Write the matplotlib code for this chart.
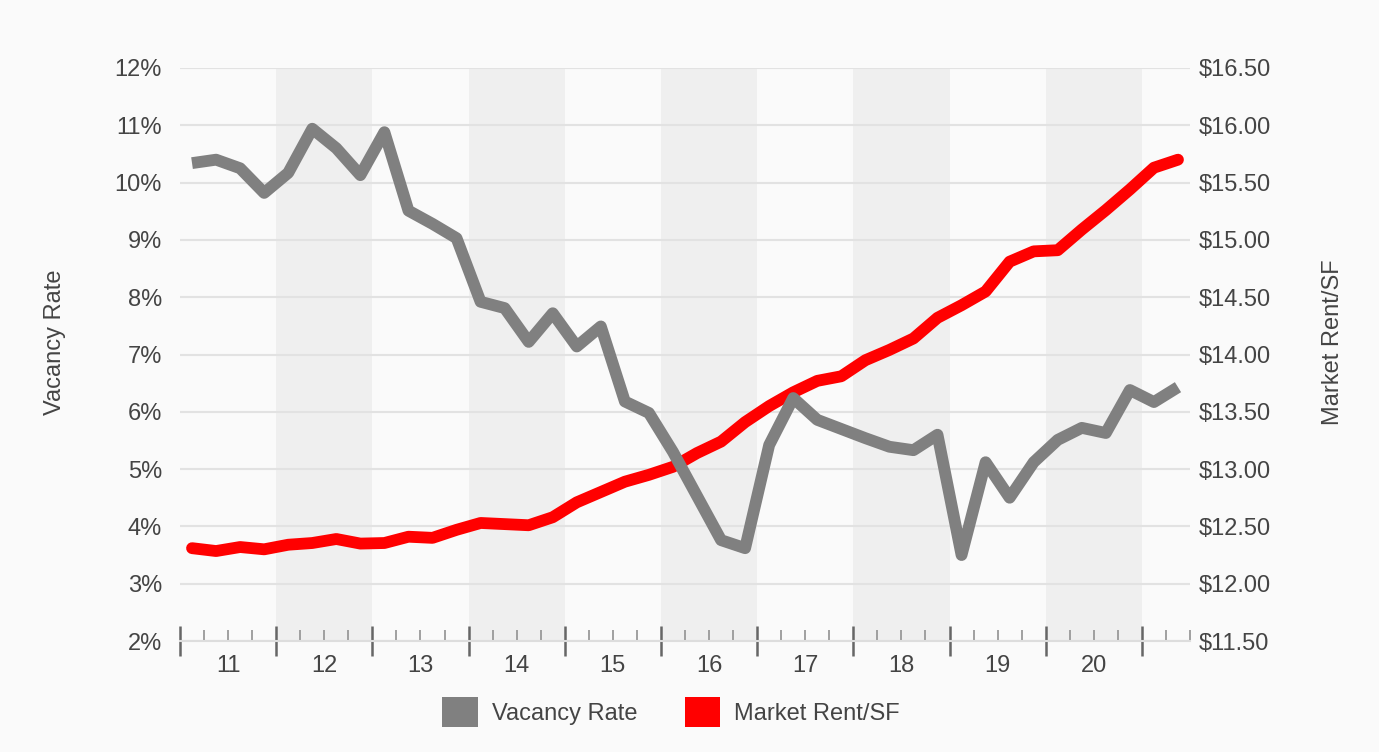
import numpy as np
import matplotlib
matplotlib.use('Agg')
import matplotlib.pyplot as plt
from matplotlib.patches import FancyBboxPatch, Patch
from matplotlib.ticker import FuncFormatter

plt.rcParams['font.family'] = ['Liberation Sans', 'DejaVu Sans']

# quarterly data, 2011 Q1 .. 2021 Q2
vacancy = [10.34, 10.40, 10.25, 9.82, 10.17, 10.94, 10.60, 10.13, 10.88, 9.51,
           9.28, 9.03, 7.92, 7.81, 7.22, 7.72, 7.14, 7.49, 6.18, 5.98,
           5.30, 4.53, 3.76, 3.62, 5.42, 6.24, 5.86, 5.70, 5.54, 5.39,
           5.33, 5.60, 3.50, 5.12, 4.50, 5.12, 5.51, 5.72, 5.63, 6.38,
           6.17, 6.43]
rent = [12.31, 12.285, 12.32, 12.30, 12.34, 12.355, 12.39, 12.35, 12.355, 12.41,
        12.40, 12.47, 12.53, 12.52, 12.51, 12.58, 12.71, 12.80, 12.89, 12.95,
        13.02, 13.14, 13.24, 13.41, 13.55, 13.67, 13.77, 13.81, 13.95, 14.04,
        14.14, 14.32, 14.43, 14.55, 14.81, 14.90, 14.91, 15.09, 15.26, 15.44,
        15.63, 15.70]
years = list(range(2011, 2021))
year_labels = [str(y)[2:] for y in years]
shaded_years = [2012, 2014, 2016, 2018, 2020]

x = 2011 + (np.arange(len(vacancy)) + 0.5) / 4.0

fig = plt.figure(figsize=(13.79, 7.52), dpi=100, facecolor='#fafafa')
ax = fig.add_axes([180/1379, 1-641/752, 1010/1379, 573/752])
ax2 = ax.twinx()

# rent axis sits underneath so the grey line stays on top
ax.set_zorder(ax2.get_zorder() + 1)
ax.patch.set_visible(False)
ax2.set_facecolor('#fafafa')

for yr in shaded_years:
    ax2.axvspan(yr, yr + 1, color='#efefef', lw=0, zorder=0)

ax2.plot(x, rent, color='#ff0000', lw=8.5, solid_capstyle='round', zorder=3)
ax.plot(x, vacancy, color='#808080', lw=8.5, solid_capstyle='butt', zorder=3)

ax.set_xlim(2011, 2021.5)
ax.set_ylim(2, 12)
ax2.set_ylim(11.5, 16.5)
ax.set_yticks(np.arange(2, 13, 1))
ax2.set_yticks(np.arange(11.5, 16.51, 0.5))
ax.yaxis.set_major_formatter(FuncFormatter(lambda v, p: '%d%%' % v))
ax2.yaxis.set_major_formatter(FuncFormatter(lambda v, p: '$%.2f' % v))
ax2.grid(axis='y', color='#e2e2e2', lw=1.5, zorder=1)
ax2.set_axisbelow(True)

ax.set_xticks(np.arange(2011, 2022, 1))
ax.set_xticklabels([])
ax.set_xticks([q for q in np.arange(2011, 2021.51, 0.25) if q % 1 != 0], minor=True)
ax.tick_params(axis='x', which='major', direction='inout', length=22, width=1.8, color='#666666')
ax.tick_params(axis='x', which='minor', direction='in', length=8, width=1.3, color='#999999')

sec = ax.secondary_xaxis('bottom')
sec.set_xticks([y + 0.5 for y in years], year_labels)
sec.tick_params(length=0, pad=10, labelsize=17, labelcolor='#444444')
sec.spines['bottom'].set_visible(False)

ax.tick_params(axis='y', length=0, pad=13, labelsize=17, labelcolor='#444444')
ax2.tick_params(axis='y', length=0, pad=6, labelsize=17, labelcolor='#444444')

for a in (ax, ax2):
    for s in ('left', 'right', 'top'):
        a.spines[s].set_visible(False)
ax.spines['bottom'].set_color('#dddddd')
ax.spines['bottom'].set_linewidth(1.5)
ax2.spines['bottom'].set_visible(False)

fig.text(55/1379, 1-342/752, 'Vacancy Rate', rotation=90, ha='center', va='center',
         fontsize=17, color='#444444')
fig.text(1333/1379, 1-342/752, 'Market Rent/SF', rotation=90, ha='center', va='center',
         fontsize=17, color='#444444')

handles = [Patch(facecolor='#808080', edgecolor='none', label='Vacancy Rate'),
           Patch(facecolor='#ff0000', edgecolor='none', label='Market Rent/SF')]
fig.legend(handles=handles, loc='center', bbox_to_anchor=(671/1379, 1-712/752), ncol=2,
           frameon=False, fontsize=17, handlelength=1.5, handleheight=1.6,
           handletextpad=0.6, columnspacing=2.0, labelcolor='#444444')

fig.savefig('out.png', dpi=100, facecolor=fig.get_facecolor())
